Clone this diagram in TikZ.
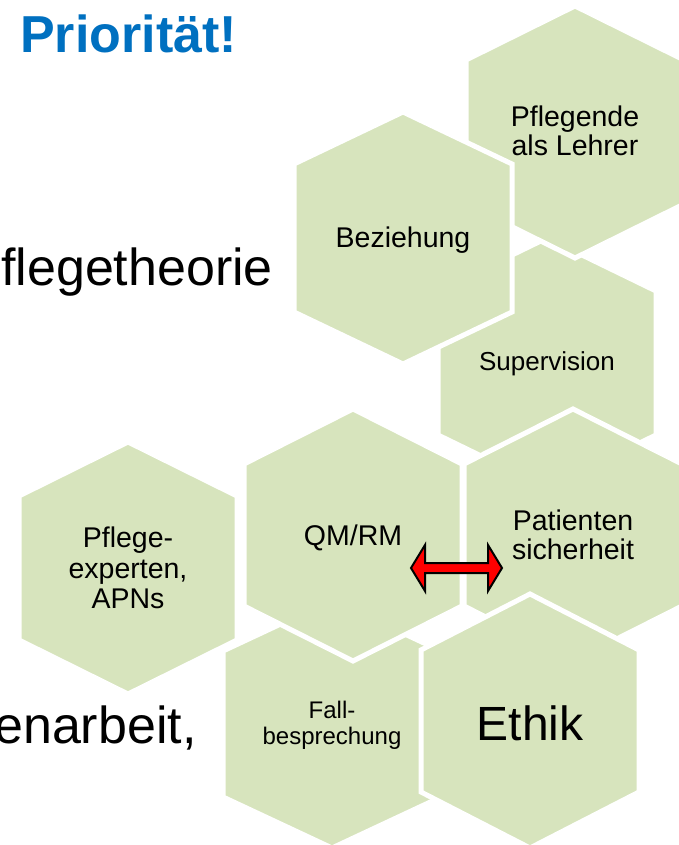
\documentclass[tikz,border=0pt]{standalone}
\usepackage{fontspec}
\setmainfont{Liberation Sans}
\usetikzlibrary{calc}
\definecolor{hexgreen}{HTML}{D7E4BD}
\definecolor{titleblue}{HTML}{0070C0}
\tikzset{
  hexbox/.style={fill=hexgreen, draw=white, line width=5pt, line join=miter},
  hexlabel/.style={font=\fontsize{28.5}{29.5}\selectfont, align=center, inner sep=0pt, text=black},
  smalllabel/.style={font=\fontsize{24}{26}\selectfont, align=center, inner sep=0pt, text=black},
  biglabel/.style={font=\fontsize{48}{50}\selectfont, inner sep=0pt, text=black},
  bodytext/.style={font=\fontsize{52}{56}\selectfont, inner sep=0pt, text=black},
  titletext/.style={font=\fontsize{52}{56}\selectfont\bfseries, inner sep=0pt, text=titleblue},
  blockarrow/.style={fill=red, draw=black, line width=2pt, line join=miter}
}
\newcommand\drawhexat[4]{%
  \begin{scope}[shift={(#1,#2)}]
    \filldraw[hexbox] (0,-#3) -- (109,-#3+#4) -- (109,#3-#4) -- (0,#3) -- (-109,#3-#4) -- (-109,-#3+#4) -- cycle;
  \end{scope}}
\begin{document}
\begin{tikzpicture}[x=1pt,y=-1pt]
\useasboundingbox (0,0) rectangle (679,845);
\fill[white] (0,0) rectangle (679,845);
\clip (0,0) rectangle (679,845);

% title and body text
\node[titletext, anchor=base west] (title) at (20,53) {Priorität!};
\node[bodytext, anchor=base west] (theorie) at (1,285) {flegetheorie};
\node[bodytext, anchor=base west] (arbeit) at (-6,743) {enarbeit,};

% hexagons (back to front)
\drawhexat{128}{568}{126}{54}
\drawhexat{547}{363}{125}{53}
\drawhexat{575}{132}{126}{54}
\drawhexat{403}{238}{126}{52}
\drawhexat{332}{724}{124}{51}
\drawhexat{353}{535}{126}{55}
\drawhexat{573}{535}{126}{55}
\drawhexat{530}{721}{127}{56}

% labels
\node[hexlabel, anchor=center] (lehrer) at (575,131) {Pflegende\\als Lehrer};
\node[hexlabel, anchor=base] (bez) at (403,247) {Beziehung};
\node[hexlabel, anchor=base, font=\fontsize{26}{28}\selectfont] (sup) at (547,370) {Supervision};
\node[hexlabel, anchor=center, font=\fontsize{28.5}{30.5}\selectfont] (apn) at (128,568) {Pflege-\\experten,\\APNs};
\node[hexlabel, anchor=base] (qm) at (353,545) {QM/RM};
\node[hexlabel, anchor=center] (pat) at (573,535) {Patienten\\sicherheit};
\node[smalllabel, anchor=center] (fall) at (332,725) {Fall-\\besprechung};
\node[biglabel, anchor=base] (ethik) at (530,740) {Ethik};

% double block arrow between QM/RM and Patientensicherheit
\coordinate (arrL) at (411,568);
\coordinate (arrR) at (502,568);
\filldraw[blockarrow] (arrL) -- ++(14,-23) -- ++(0,18) -- ++(63,0) -- ++(0,-18)
  -- (arrR) -- ++(-14,23) -- ++(0,-18) -- ++(-63,0) -- ++(0,18) -- cycle;
\end{tikzpicture}
\end{document}
